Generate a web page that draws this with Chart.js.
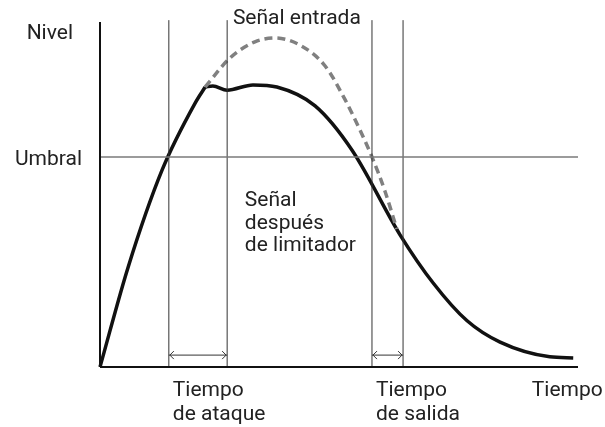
<!DOCTYPE html>
<html>
<head>
<meta charset="utf-8">
<script src="https://cdn.jsdelivr.net/npm/chart.js@4"></script>
<style>
  html, body { margin: 0; padding: 0; background: #fff; }
  #wrap { width: 605px; height: 427px; }
</style>
</head>
<body>
<div id="wrap"><canvas id="chart" width="605" height="427"></canvas></div>
<script>
// valores (tiempo 0-100, nivel 0-100)
const umbral = 60;
const marcas = [14.4, 26.6, 56.9, 63.4];   // inicio/fin ataque, inicio/fin salida
const entradaX = [22.0, 27.2, 32.4, 36.6, 41.8, 47.1, 51.3, 54.4, 56.9, 59.6, 62.1];
const entradaY = [80.0, 88.3, 92.9, 94.0, 92.0, 86.0, 76.3, 67.7, 60.0, 50.3, 39.4];
const subidaX = [0, 5.9, 13.0, 19.9, 22.0];
const subidaY = [0, 28.6, 56.3, 75.4, 80.0];
const salidaX = [22.0, 23.6, 26.6, 32.0, 37.0, 45.0, 52.7, 62.8, 69.7, 76.8, 83.7, 94.1, 99.0];
const salidaY = [80.0, 80.3, 79.1, 80.6, 80.0, 74.6, 62.0, 37.7, 24.0, 13.2, 7.1, 2.9, 2.6];
const flechaY = 3.4;
const topeY = 99.1;

const etiquetasX = [
  { x: marcas[0], lines: ['Tiempo', 'de ataque'] },
  { x: marcas[2], lines: ['Tiempo', 'de salida'] },
  { x: 89.5, lines: ['Tiempo'] }
];

const pts = (xs, ys) => xs.map((x, i) => ({ x: x, y: ys[i] }));
const linea = (data, color, width, extra) => Object.assign({
  data: data, showLine: true, borderColor: color, borderWidth: width,
  pointRadius: 0, fill: false, clip: false
}, extra || {});

const datasets = [
  linea([{ x: 0, y: 0 }, { x: 0, y: 98.6 }], '#111', 2),
  linea([{ x: 0, y: 0 }, { x: 100, y: 0 }], '#111', 2),
  linea([{ x: 0, y: umbral }, { x: 100, y: umbral }], '#7a7a7a', 1.5)
];
marcas.forEach(m => datasets.push(linea([{ x: m, y: 0 }, { x: m, y: topeY }], '#333', 1)));
datasets.push(linea([{ x: marcas[0], y: flechaY }, { x: marcas[1], y: flechaY }], '#333', 1, { flecha: true }));
datasets.push(linea([{ x: marcas[2], y: flechaY }, { x: marcas[3], y: flechaY }], '#333', 1, { flecha: true }));
datasets.push(linea(pts(entradaX, entradaY), '#808080', 3.5, { borderDash: [8, 5], cubicInterpolationMode: 'monotone' }));
datasets.push(linea(pts(subidaX, subidaY), '#111', 3.5, { cubicInterpolationMode: 'monotone' }));
datasets.push(linea(pts(salidaX, salidaY), '#111', 3.5, { cubicInterpolationMode: 'monotone' }));

const textos = {
  id: 'textos',
  afterDatasetsDraw(chart) {
    const ctx = chart.ctx;
    const xs = chart.scales.x, ys = chart.scales.y;
    ctx.save();
    // puntas de flecha
    chart.data.datasets.forEach(ds => {
      if (!ds.flecha) return;
      const y = ys.getPixelForValue(ds.data[0].y);
      const a = xs.getPixelForValue(ds.data[0].x), b = xs.getPixelForValue(ds.data[1].x);
      ctx.strokeStyle = '#333'; ctx.lineWidth = 1;
      ctx.beginPath();
      ctx.moveTo(a + 5, y - 4); ctx.lineTo(a + 1, y); ctx.lineTo(a + 5, y + 4);
      ctx.moveTo(b - 5, y - 4); ctx.lineTo(b - 1, y); ctx.lineTo(b - 5, y + 4);
      ctx.stroke();
    });
    ctx.fillStyle = '#222';
    ctx.font = '21px Roboto';
    ctx.textBaseline = 'alphabetic';
    const x0 = xs.getPixelForValue(0), yb = ys.getPixelForValue(0);
    ctx.textAlign = 'right';
    ctx.fillText('Nivel', x0 - 27, 39);
    ctx.fillText('Umbral', x0 - 18, ys.getPixelForValue(umbral) + 8);
    ctx.textAlign = 'left';
    etiquetasX.forEach(e => {
      const px = xs.getPixelForValue(e.x) + 4;
      e.lines.forEach((t, i) => ctx.fillText(t, px, yb + 29 + i * 24));
    });
    ctx.fillText('Señal entrada', xs.getPixelForValue(27.8), 24);
    ['Señal', 'después', 'de limitador'].forEach((t, i) =>
      ctx.fillText(t, xs.getPixelForValue(30.3), 206 + i * 22.5));
    ctx.restore();
  }
};

new Chart(document.getElementById('chart'), {
  type: 'scatter',
  data: { datasets: datasets },
  options: {
    responsive: false,
    animation: false,
    layout: { padding: { left: 100, right: 27, top: 17, bottom: 60 } },
    scales: {
      x: { type: 'linear', min: 0, max: 100, display: false },
      y: { type: 'linear', min: 0, max: 100, display: false }
    },
    plugins: { legend: { display: false }, tooltip: { enabled: false } }
  },
  plugins: [textos]
});
</script>
</body>
</html>
